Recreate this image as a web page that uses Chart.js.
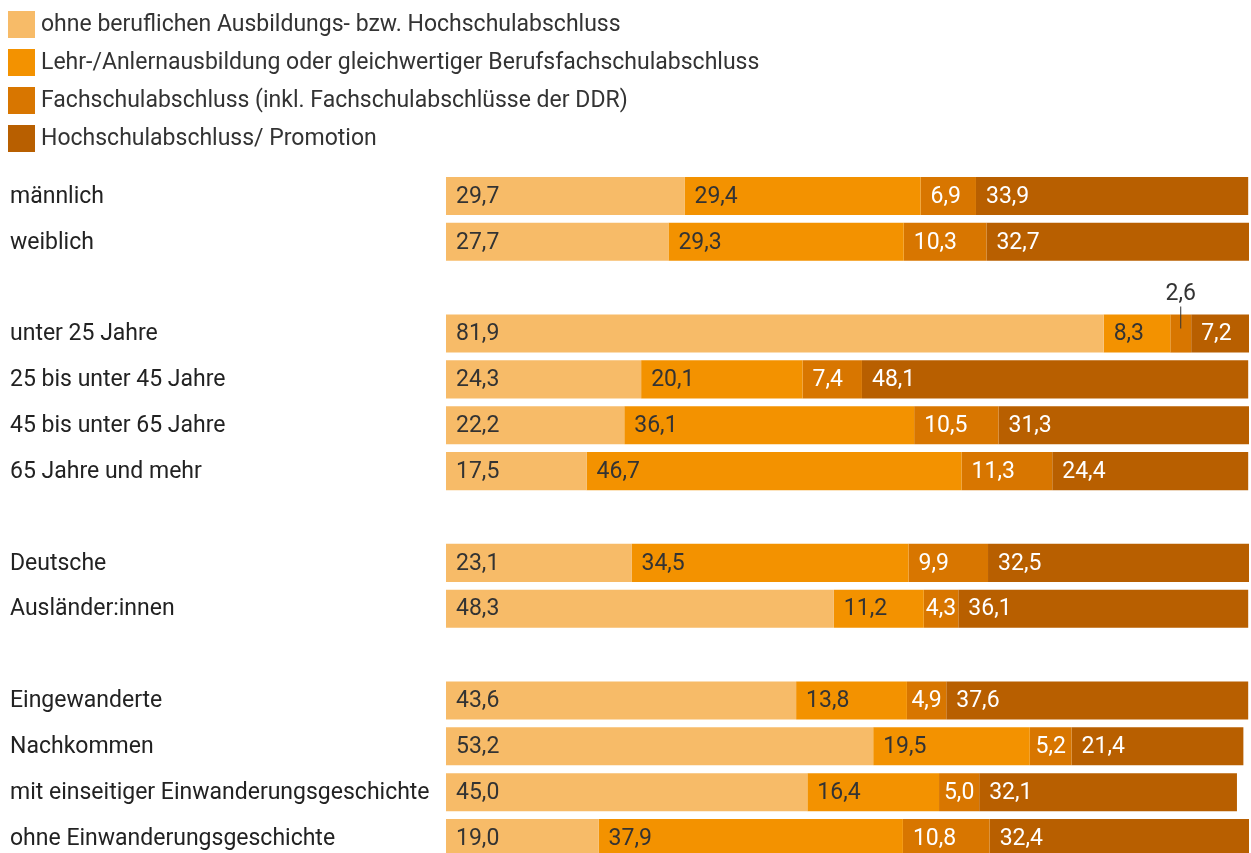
<!DOCTYPE html>
<html lang="de">
<head>
<meta charset="utf-8">
<title>Berufliche Bildungsabschlüsse</title>
<script src="https://cdn.jsdelivr.net/npm/chart.js@4/dist/chart.umd.min.js"></script>
<style>
  html, body { margin: 0; padding: 0; background: #fff; overflow: hidden; }
  canvas { display: block; }
</style>
</head>
<body>
<canvas id="chart" width="1251" height="876"></canvas>
<script>
// Categories (empty strings are spacer rows between groups)
const categories = [
  "männlich", "weiblich", "",
  "unter 25 Jahre", "25 bis unter 45 Jahre", "45 bis unter 65 Jahre", "65 Jahre und mehr", "",
  "Deutsche", "Ausländer:innen", "",
  "Eingewanderte", "Nachkommen", "mit einseitiger Einwanderungsgeschichte", "ohne Einwanderungsgeschichte"
];

const seriesNames = [
  "ohne beruflichen Ausbildungs- bzw. Hochschulabschluss",
  "Lehr-/Anlernausbildung oder gleichwertiger Berufsfachschulabschluss",
  "Fachschulabschluss (inkl. Fachschulabschlüsse der DDR)",
  "Hochschulabschluss/ Promotion"
];

const ohneAbschluss = [29.7, 27.7, null, 81.9, 24.3, 22.2, 17.5, null, 23.1, 48.3, null, 43.6, 53.2, 45.0, 19.0];
const lehre         = [29.4, 29.3, null,  8.3, 20.1, 36.1, 46.7, null, 34.5, 11.2, null, 13.8, 19.5, 16.4, 37.9];
const fachschule    = [ 6.9, 10.3, null,  2.6,  7.4, 10.5, 11.3, null,  9.9,  4.3, null,  4.9,  5.2,  5.0, 10.8];
const hochschule    = [33.9, 32.7, null,  7.2, 48.1, 31.3, 24.4, null, 32.5, 36.1, null, 37.6, 21.4, 32.1, 32.4];

const colors = ["#f7bb68", "#f39200", "#d87600", "#b85f00"];
const labelColors = ["#333333", "#333333", "#ffffff", "#ffffff"];
const FONT = "Roboto, 'Noto Sans', sans-serif";
const FONT_SIZE = 23;

const fmt = v => v.toFixed(1).replace(".", ",");

// Legend drawn as a vertical list above the bars
const legendPlugin = {
  id: "verticalLegend",
  afterDraw(chart) {
    const ctx = chart.ctx;
    ctx.save();
    ctx.font = FONT_SIZE + "px " + FONT;
    ctx.textBaseline = "middle";
    ctx.textAlign = "left";
    chart.data.datasets.forEach((ds, i) => {
      const y = 11 + i * 38;
      ctx.fillStyle = ds.backgroundColor;
      ctx.fillRect(8, y, 27, 27);
      ctx.fillStyle = "#333333";
      ctx.fillText(ds.label, 41, y + 14);
    });
    ctx.restore();
  }
};

// Value labels inside each segment; narrow segments get a label above with a leader line
const valueLabelPlugin = {
  id: "valueLabels",
  afterDatasetsDraw(chart) {
    const ctx = chart.ctx;
    ctx.save();
    ctx.font = FONT_SIZE + "px " + FONT;
    ctx.textBaseline = "middle";
    chart.data.datasets.forEach((ds, di) => {
      const meta = chart.getDatasetMeta(di);
      meta.data.forEach((bar, i) => {
        const v = ds.data[i];
        if (v === null || v === undefined) return;
        const text = fmt(v);
        const left = Math.min(bar.base, bar.x);
        const width = Math.abs(bar.x - bar.base);
        const tw = ctx.measureText(text).width;
        if (tw + 2 > width) {
          const cx = left + width / 2;
          const top = bar.y - bar.height / 2;
          ctx.strokeStyle = "#333333";
          ctx.lineWidth = 1;
          ctx.beginPath();
          ctx.moveTo(cx, top - 8);
          ctx.lineTo(cx, top + 14);
          ctx.stroke();
          ctx.fillStyle = "#333333";
          ctx.textAlign = "center";
          ctx.fillText(text, cx, top - 20);
        } else {
          const pad = Math.min(10, (width - tw) / 2);
          ctx.fillStyle = labelColors[di];
          ctx.textAlign = "left";
          ctx.fillText(text, left + pad, bar.y + 1);
        }
      });
    });
    ctx.restore();
  }
};

const seriesValues = [ohneAbschluss, lehre, fachschule, hochschule];

new Chart(document.getElementById("chart"), {
  type: "bar",
  data: {
    labels: categories,
    datasets: seriesValues.map((vals, i) => ({
      label: seriesNames[i],
      data: vals,
      backgroundColor: colors[i],
      borderWidth: 0,
      categoryPercentage: 1,
      barPercentage: 0.83
    }))
  },
  options: {
    indexAxis: "y",
    responsive: false,
    animation: false,
    devicePixelRatio: 1,
    layout: { padding: { top: 173, bottom: 15, left: 10, right: 2 } },
    plugins: {
      legend: { display: false },
      tooltip: { enabled: false }
    },
    scales: {
      x: {
        stacked: true,
        min: 0,
        max: 100,
        display: false
      },
      y: {
        stacked: true,
        offset: true,
        grid: { display: false },
        border: { display: false },
        ticks: {
          crossAlign: "far",
          padding: 0,
          labelOffset: 1,
          color: "#222222",
          font: { family: FONT, size: FONT_SIZE }
        },
        afterFit(scale) { scale.width = 436; }
      }
    }
  },
  plugins: [legendPlugin, valueLabelPlugin]
});
</script>
</body>
</html>
